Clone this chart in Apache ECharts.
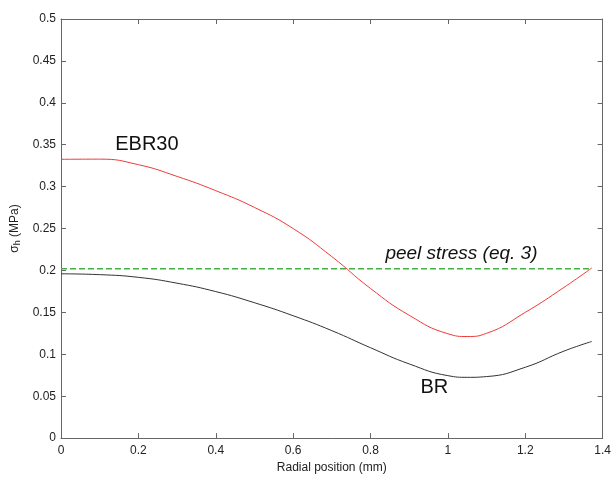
<!DOCTYPE html>
<html>
<head>
<meta charset="utf-8">
<script src="https://cdn.jsdelivr.net/npm/echarts@6/dist/echarts.min.js"></script>
<style>
  html, body { margin: 0; padding: 0; background: #fff; }
  #chart { width: 614px; height: 479px; }
</style>
</head>
<body>
<div id="chart"></div>
<script>
// Radial position (mm) and hoop stress (MPa) for the two cases
const radialX = [0, 0.1, 0.2, 0.3, 0.4, 0.5, 0.6, 0.7, 0.8, 0.9, 1.0, 1.05, 1.1, 1.2, 1.3, 1.372];
const ebr30Y = [0.3326, 0.3328, 0.3262, 0.3122, 0.2952, 0.2752, 0.2500, 0.2165, 0.1785, 0.1465, 0.1245, 0.1212, 0.1250, 0.1500, 0.1798, 0.203];
const brY = [0.196, 0.1950, 0.1918, 0.1848, 0.1748, 0.1615, 0.1460, 0.1282, 0.1078, 0.0885, 0.0745, 0.0725, 0.0734, 0.0845, 0.1038, 0.1153];

// Peel stress level (eq. 3)
const peelX = [0, 1.372];
const peelY = [0.202, 0.202];

const zip = (xs, ys) => xs.map((x, i) => [x, ys[i]]);

const FONT = 'Liberation Sans';
const axisGray = '#666';

const chart = echarts.init(document.getElementById('chart'), null, { renderer: 'canvas' });

const baseAxis = {
  axisLine: { show: true, onZero: false, lineStyle: { color: axisGray, width: 1 } },
  axisTick: { show: true, inside: true, length: 5, lineStyle: { color: axisGray } },
  splitLine: { show: false }
};

chart.setOption({
  animation: false,
  backgroundColor: '#fff',
  grid: { left: 61, right: 8, top: 19, bottom: 32 },
  xAxis: [
    Object.assign({}, baseAxis, {
      type: 'value', min: 0, max: 1.4, interval: 0.2, position: 'bottom',
      axisLabel: { color: '#222', fontFamily: FONT, fontSize: 12, margin: 7 },
      name: 'Radial position (mm)', nameLocation: 'middle', nameGap: 19,
      nameTextStyle: { color: '#222', fontFamily: FONT, fontSize: 12 }
    }),
    Object.assign({}, baseAxis, {
      type: 'value', min: 0, max: 1.4, interval: 0.2, position: 'top',
      axisLabel: { show: false }
    })
  ],
  yAxis: [
    Object.assign({}, baseAxis, {
      type: 'value', min: 0, max: 0.5, interval: 0.05, position: 'left',
      axisLabel: { color: '#222', fontFamily: FONT, fontSize: 12, margin: 5 },
      name: 'σ{sub|h} (MPa)', nameLocation: 'middle', nameGap: 38, nameRotate: 90,
      nameTextStyle: {
        color: '#222', fontFamily: FONT, fontSize: 12,
        rich: { sub: { fontFamily: FONT, fontSize: 9, verticalAlign: 'bottom', padding: [6, 0, 0, 0], color: '#222' } }
      }
    }),
    Object.assign({}, baseAxis, {
      type: 'value', min: 0, max: 0.5, interval: 0.05, position: 'right',
      axisLabel: { show: false }
    })
  ],
  series: [
    {
      name: 'EBR30', type: 'line', xAxisIndex: 0, yAxisIndex: 0,
      data: zip(radialX, ebr30Y), showSymbol: false, smooth: 0.5,
      lineStyle: { color: '#ee3b3b', width: 1 },
      markPoint: {
        symbol: 'circle', symbolSize: 0, silent: true,
        label: { show: true, position: 'inside', color: '#111', fontFamily: FONT, fontSize: 20 },
        data: [{ coord: [0.222, 0.3505], value: 'EBR30' }]
      }
    },
    {
      name: 'BR', type: 'line', xAxisIndex: 0, yAxisIndex: 0,
      data: zip(radialX, brY), showSymbol: false, smooth: 0.5,
      lineStyle: { color: '#333', width: 1 },
      markPoint: {
        symbol: 'circle', symbolSize: 0, silent: true,
        label: { show: true, position: 'inside', color: '#111', fontFamily: FONT, fontSize: 20 },
        data: [{ coord: [0.965, 0.0607], value: 'BR' }]
      }
    },
    {
      name: 'peel stress', type: 'line', xAxisIndex: 0, yAxisIndex: 0,
      data: zip(peelX, peelY), showSymbol: false,
      lineStyle: { color: '#44b044', width: 1.5, type: [6, 3] },
      markPoint: {
        symbol: 'circle', symbolSize: 0, silent: true,
        label: { show: true, position: 'inside', color: '#111', fontFamily: FONT, fontSize: 19, fontStyle: 'italic' },
        data: [{ coord: [1.035, 0.2196], value: 'peel stress (eq. 3)' }]
      }
    }
  ]
});
</script>
</body>
</html>
